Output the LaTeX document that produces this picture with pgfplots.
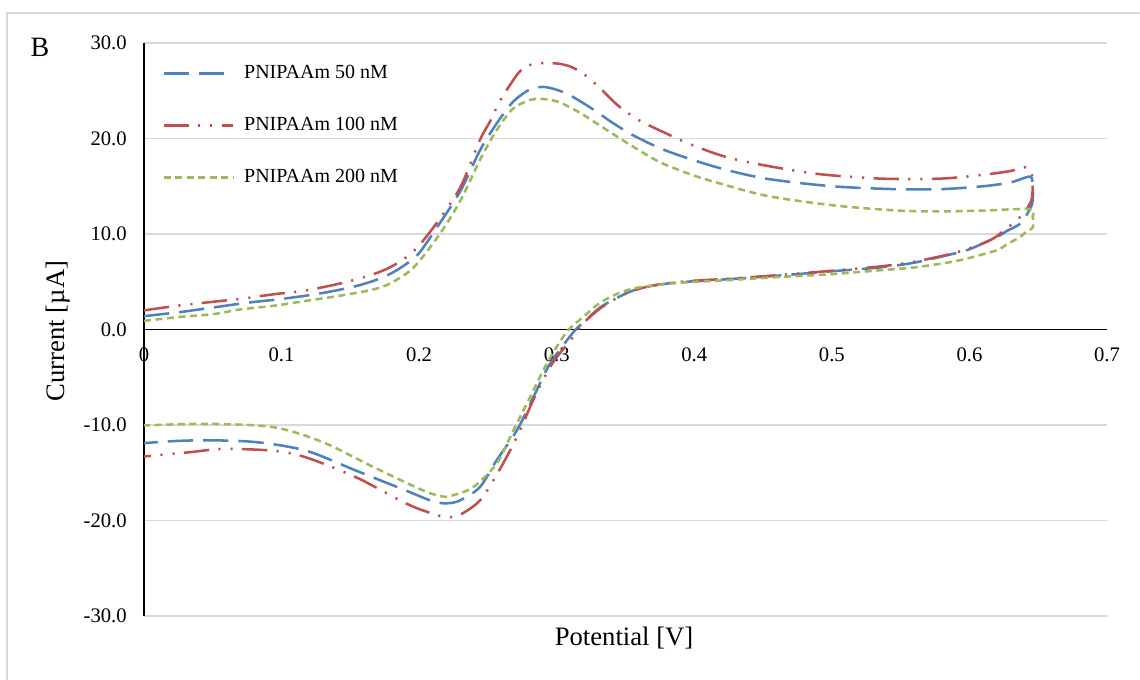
\documentclass[border=0pt]{standalone}
\usepackage{fontspec}
\setmainfont{Liberation Serif}
\usepackage{pgfplots}
\pgfplotsset{compat=1.18}
\definecolor{cblue}{HTML}{4F81BD}
\definecolor{cred}{HTML}{C0504D}
\definecolor{cgreen}{HTML}{9BBB59}
\definecolor{cgrid}{HTML}{D9D9D9}
\begin{document}
\begin{tikzpicture}
\useasboundingbox (0,0) rectangle (855pt,510pt);
\fill[white] (0,0) rectangle (855pt,510pt);
\draw[cgrid, line width=0.8pt] (5.25pt,0) -- (5.25pt,500.25pt) -- (855pt,500.25pt);
\begin{axis}[
  at={(108pt,48pt)}, anchor=south west,
  scale only axis, width=722.25pt, height=429.75pt,
  xmin=0, xmax=0.7, ymin=-30, ymax=30,
  axis x line=middle, axis y line=left,
  axis line style={-, black, line width=0.8pt},
  every inner x axis line/.append style={-},
  every outer y axis line/.append style={-},
  hide obscured x ticks=false, hide obscured y ticks=false,
  xtick={0,0.1,...,0.7}, ytick={-30,-20,...,30},
  major tick length=0pt,
  ymajorgrids, grid style={cgrid, line width=0.8pt},
  xticklabel style={/pgf/number format/fixed, /pgf/number format/precision=1, anchor=north, inner sep=0pt, yshift=-13.5pt, font=\fontsize{15.5}{18}\selectfont},
  yticklabel style={/pgf/number format/fixed, /pgf/number format/fixed zerofill, /pgf/number format/precision=1, anchor=east, inner sep=0pt, xshift=-12.75pt, font=\fontsize{15.5}{18}\selectfont},
  /pgf/number format/assume math mode=true,
  legend style={at={(axis description cs:0.0187,0.9646)}, anchor=north west, draw=none, fill=none, inner sep=0pt, row sep=24pt, column sep=7.5pt,
    nodes={inner sep=0pt, text height=11pt, text depth=4pt, font=\fontsize{15}{18}\selectfont}},
  legend cell align=left,
  legend image code/.code={\draw[#1] (0pt,0pt) -- (52pt,0pt);},
  clip=false,
]
\addplot[cblue, line width=1.9pt, smooth, tension=0.5, dash pattern=on 19pt off 7.5pt] coordinates {
(0.000,1.4) (0.025,1.8) (0.050,2.3) (0.075,2.8) (0.100,3.2) (0.125,3.7) (0.150,4.4) (0.167,5.1) (0.180,5.9) (0.191,6.9) (0.200,8.0) (0.213,10.7) (0.230,14.5) (0.244,18.7) (0.256,21.5) (0.268,23.8) (0.280,25.1) (0.290,25.4) (0.300,25.1) (0.310,24.5) (0.327,23.0) (0.340,21.7) (0.356,20.3) (0.380,18.7) (0.416,17.0) (0.452,15.8) (0.500,15.0) (0.545,14.7) (0.580,14.7) (0.610,15.0) (0.630,15.4) (0.644,16.0)
(0.646,15.0) (0.646,13.5) (0.644,12.6) (0.637,11.1) (0.627,10.3) (0.620,9.7) (0.600,8.4) (0.586,7.85) (0.560,7.0) (0.535,6.5) (0.500,6.1) (0.462,5.65) (0.428,5.3) (0.390,4.95) (0.370,4.6) (0.356,4.1) (0.345,3.4) (0.3315,2.3) (0.320,0.8) (0.312,-0.3) (0.2951,-3.6) (0.283,-7.1) (0.2709,-10.6) (0.2563,-13.7) (0.2442,-16.5) (0.2297,-17.9) (0.220,-18.2) (0.210,-18.0) (0.191,-16.9) (0.1545,-14.8) (0.118,-12.7) (0.082,-11.8) (0.046,-11.6) (0.020,-11.7) (0.000,-11.9)
};
\addlegendentry{PNIPAAm 50 nM}
\addplot[cred, line width=1.9pt, smooth, tension=0.5, dash pattern=on 19pt off 7pt on 1.6pt off 7.5pt on 1.6pt off 7pt] coordinates {
(0.000,2.0) (0.025,2.5) (0.050,2.9) (0.070,3.2) (0.095,3.7) (0.118,4.1) (0.145,4.9) (0.167,5.8) (0.180,6.6) (0.191,7.6) (0.200,8.8) (0.213,11.2) (0.230,14.9) (0.244,19.8) (0.252,21.9) (0.259,24.0) (0.273,27.0) (0.283,27.8) (0.293,27.9) (0.303,27.8) (0.312,27.4) (0.322,26.5) (0.332,25.2) (0.345,23.4) (0.360,21.9) (0.380,20.5) (0.397,19.4) (0.420,18.2) (0.445,17.35) (0.489,16.3) (0.535,15.8) (0.579,15.8) (0.610,16.2) (0.630,16.6) (0.641,17.0)
(0.645,16.5) (0.646,15.0) (0.645,13.5) (0.640,12.3) (0.634,11.4) (0.617,9.5) (0.600,8.5) (0.586,7.9) (0.560,7.1) (0.535,6.6) (0.500,6.15) (0.462,5.7) (0.428,5.35) (0.390,5.0) (0.370,4.6) (0.356,4.1) (0.345,3.4) (0.3315,2.2) (0.319,0.6) (0.3097,-1.2) (0.2975,-3.4) (0.2854,-6.6) (0.2709,-11.3) (0.2576,-14.9) (0.2442,-17.9) (0.2297,-19.4) (0.2200,-19.65) (0.2100,-19.3) (0.191,-18.25) (0.1545,-15.5) (0.118,-13.4) (0.094,-12.7) (0.0576,-12.5) (0.0334,-12.85) (0.000,-13.3)
};
\addlegendentry{PNIPAAm 100 nM}
\addplot[cgreen, line width=1.9pt, smooth, tension=0.5, dash pattern=on 5.25pt off 3.4pt] coordinates {
(0.000,0.9) (0.025,1.3) (0.050,1.6) (0.070,2.1) (0.095,2.5) (0.118,3.0) (0.145,3.6) (0.167,4.2) (0.180,4.9) (0.196,6.5) (0.215,10.0) (0.230,13.5) (0.244,17.7) (0.256,20.8) (0.268,23.1) (0.280,24.0) (0.288,24.15) (0.297,24.0) (0.305,23.6) (0.318,22.6) (0.332,21.3) (0.345,20.1) (0.356,19.1) (0.370,17.9) (0.380,17.2) (0.400,16.1) (0.416,15.4) (0.4525,14.0) (0.501,13.0) (0.547,12.46) (0.579,12.36) (0.610,12.45) (0.644,12.6)
(0.646,11.8) (0.646,10.7) (0.641,10.2) (0.637,9.7) (0.627,8.9) (0.620,8.3) (0.600,7.5) (0.586,7.05) (0.560,6.5) (0.535,6.2) (0.500,5.8) (0.462,5.5) (0.428,5.2) (0.390,4.9) (0.370,4.6) (0.356,4.3) (0.345,3.8) (0.3315,2.8) (0.320,1.4) (0.307,-0.3) (0.2927,-3.6) (0.2806,-7.1) (0.2684,-10.6) (0.2563,-14.06) (0.2394,-16.5) (0.2250,-17.35) (0.2176,-17.5) (0.203,-16.86) (0.1667,-14.4) (0.130,-11.8) (0.094,-10.23) (0.0456,-9.88) (0.000,-10.05)
};
\addlegendentry{PNIPAAm 200 nM}
\end{axis}
\node[inner sep=0pt, font=\fontsize{20}{24}\selectfont] at (468pt,31.5pt) {Potential [V]};
\node[inner sep=0pt, rotate=90, font=\fontsize{20}{24}\selectfont] at (43.5pt,261.75pt) {Current [µA]};
\node[inner sep=0pt, font=\fontsize{21}{25}\selectfont] at (30pt,474.75pt) {B};
\end{tikzpicture}
\end{document}
